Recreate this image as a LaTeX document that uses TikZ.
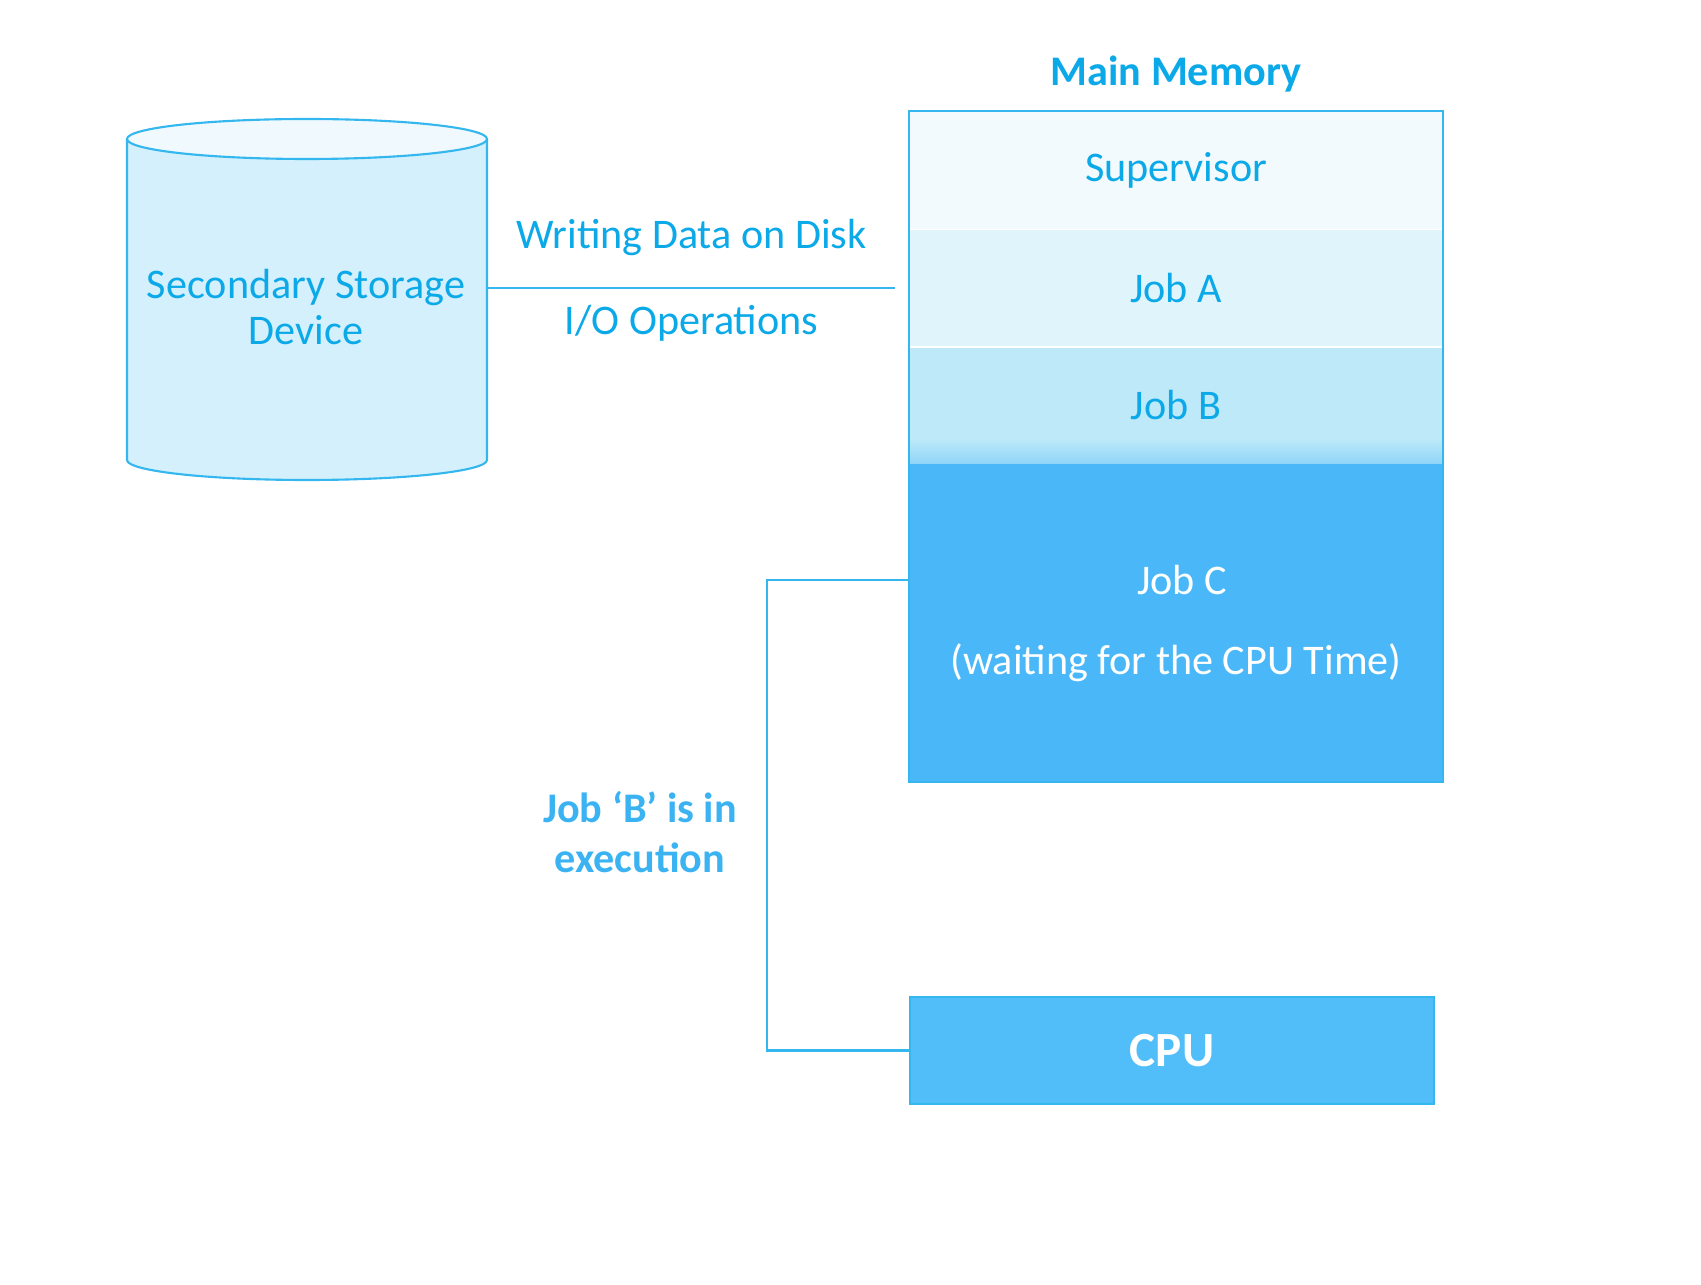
\documentclass[tikz,border=0pt]{standalone}
\usepackage{fontspec}
\setmainfont{Carlito}
\usetikzlibrary{positioning,calc}
\definecolor{edge}{HTML}{33B7EE}
\definecolor{ink}{HTML}{0BA9E8}
\definecolor{execink}{HTML}{3BB3F2}
\definecolor{supfill}{HTML}{F2FAFD}
\definecolor{jobafill}{HTML}{E0F4FB}
\definecolor{jobbfill}{HTML}{BDE9F9}
\definecolor{jobbedge}{HTML}{8FD5F8}
\definecolor{jobcfill}{HTML}{4AB8F8}
\definecolor{cpufill}{HTML}{52BEF9}
\definecolor{diskfill}{HTML}{D3F0FC}
\definecolor{disktop}{HTML}{F0F9FE}
\begin{document}
\begin{tikzpicture}[
		memsec/.style={rectangle, minimum width=5.32cm, inner sep=0pt, text=ink, font=\fontsize{12}{14}\selectfont},
		lbl/.style={text=ink, font=\fontsize{12}{14}\selectfont, align=center},
		link/.style={draw=edge, line width=0.6pt}
	]
		\useasboundingbox (0,0) rectangle (17.01,12.84);
		
		% Secondary storage - cylinder
		\filldraw[fill=diskfill, draw=edge, line width=0.6pt] (1.27,11.45) -- (1.27,8.24) arc (180:360:1.8 and 0.2) -- (4.87,11.45);
		\filldraw[fill=disktop, draw=edge, line width=0.6pt] (3.07,11.45) ellipse (1.8 and 0.2);
		\node[minimum width=3.6cm, minimum height=3.2cm, inner sep=0pt] (disk) at (3.07,9.85) {};
		\node[lbl] (disklbl) at (3.06,9.77) {Secondary Storage\\[-1pt]Device};
		
		% Main memory
		\node[memsec, fill=supfill, minimum height=1.17cm] (sup) at (11.76,11.135) {Supervisor};
		\node[memsec, fill=jobafill, minimum height=1.16cm, below=0pt of sup] (joba) {Job A};
		\node[memsec, fill=jobbfill, minimum height=1.15cm, below=0pt of joba] (jobb) {Job B};
		\shade[top color=jobbfill, bottom color=jobbedge] ([yshift=0.25cm]jobb.south west) rectangle (jobb.south east);
		\node[memsec, fill=jobcfill, minimum height=3.17cm, below=0pt of jobb] (jobc) {};
		\draw[edge, line width=0.6pt] (sup.north west) rectangle (jobc.south east);
		\node[lbl, text=white] (jctext) at (11.82,7.04) {Job C};
		\node[lbl, text=white] (jcwait) at (11.76,6.21) {(waiting for the CPU Time)};
		\node[lbl, font=\fontsize{12}{14}\selectfont\bfseries, above=0.07cm of sup] (mmtitle) {Main Memory};
		
		% CPU
		\node[rectangle, draw=edge, fill=cpufill, minimum width=5.24cm, minimum height=1.07cm, text=white, font=\fontsize{14}{16}\selectfont\bfseries] (cpu) at (11.72,2.335) {CPU};
		
		% Disk to memory
		\draw[link] (disk.east |- joba.west) -- ([xshift=-4pt]joba.west)
			node[lbl, midway, yshift=0.51cm] (writelbl) {Writing Data on Disk}
			node[lbl, midway, yshift=-0.35cm] (iolbl) {I/O Operations};
		
		% Job C to CPU
		\draw[link] (jobc.west |- jctext) -- ++(-1.42,0) |- (cpu.west);
		\node[lbl, text=execink, font=\fontsize{12}{14}\selectfont\bfseries] (execlbl) at (6.40,4.52) {Job `B' is in\\execution};
	\end{tikzpicture}
\end{document}
